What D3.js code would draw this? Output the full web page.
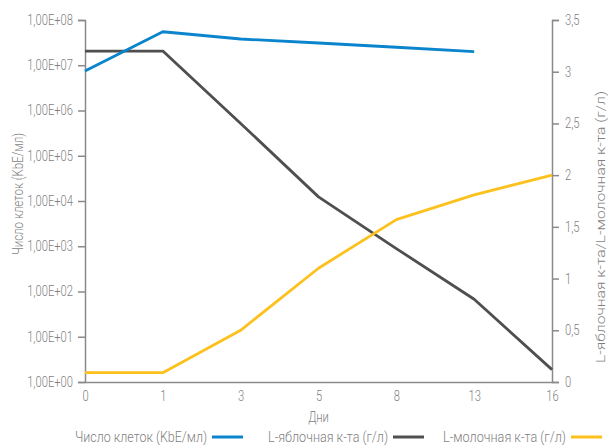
<!DOCTYPE html>
<html>
<head>
<meta charset="utf-8">
<script src="https://cdn.jsdelivr.net/npm/d3@7"></script>
<style>
  html, body { margin: 0; padding: 0; background: #fff; }
  svg text { font-family: "Roboto", "Liberation Sans", sans-serif; font-weight: 300; fill: #7f7f7f; }
</style>
</head>
<body>
<svg id="chart" width="609" height="445"></svg>
<script>
// Days of fermentation (categorical x axis)
const days = ["0", "1", "3", "5", "8", "13", "16"];

// Cell count (CFU/ml), log scale, left axis
const cellCount = [7.5e6, 5.5e7, 3.8e7, 3.1e7, 2.5e7, 2.0e7, null];

// L-malic acid (g/l), right axis
const malicAcid = [3.2, 3.2, 2.5, 1.79, 1.29, 0.8, 0.12];

// L-lactic acid (g/l), right axis
const lacticAcid = [0.09, 0.09, 0.5, 1.1, 1.57, 1.81, 2.0];

// Axis ticks
const leftTicks = [1e0, 1e1, 1e2, 1e3, 1e4, 1e5, 1e6, 1e7, 1e8];
const rightTicks = [0, 0.5, 1, 1.5, 2, 2.5, 3, 3.5];

const seriesNames = ["Число клеток (KbE/мл)", "L-яблочная к-та (г/л)", "L-молочная к-та (г/л)"];
const seriesColors = ["#0a84cc", "#4f4f4f", "#fdc11e"];

const svg = d3.select("#chart");
const margin = { left: 85, right: 57, top: 20, bottom: 63 };
const W = 609, H = 445;
const condense = 0.8; // horizontal squeeze for a narrow typeface look

const x = d3.scalePoint().domain(days).range([margin.left, W - margin.right]).padding(0);
const yLeft = d3.scaleLog().domain([1, 1e8]).range([H - margin.bottom, margin.top]);
const yRight = d3.scaleLinear().domain([0, 3.5]).range([H - margin.bottom, margin.top]);

const sciFmt = v => {
  const e = Math.round(Math.log10(v));
  return "1,00E+" + String(e).padStart(2, "0");
};
const decFmt = v => String(v).replace(".", ",");

function styleAxis(g) {
  g.selectAll("path.domain").attr("stroke", "#8a8a8a").attr("stroke-width", 1.5);
  g.selectAll(".tick line").attr("stroke", "#8a8a8a").attr("stroke-width", 1.5);
  g.selectAll(".tick text")
    .attr("font-size", 14)
    .attr("fill", "#7f7f7f")
    .each(function () {
      const t = d3.select(this);
      const tx = +t.attr("x") || 0;
      t.attr("x", 0).attr("transform", `translate(${tx},0) scale(${condense},1)`);
    });
}

// Left (log) axis
svg.append("g")
  .attr("transform", `translate(${margin.left},0)`)
  .call(d3.axisLeft(yLeft).tickValues(leftTicks).tickFormat(sciFmt).tickSize(7).tickSizeOuter(7).tickPadding(5))
  .call(styleAxis);

// Right (linear) axis
svg.append("g")
  .attr("transform", `translate(${W - margin.right},0)`)
  .call(d3.axisRight(yRight).tickValues(rightTicks).tickFormat(decFmt).tickSize(7).tickSizeOuter(7).tickPadding(6))
  .call(styleAxis);

// Bottom axis
svg.append("g")
  .attr("transform", `translate(0,${H - margin.bottom})`)
  .call(d3.axisBottom(x).tickSize(0).tickPadding(9))
  .call(styleAxis);

// Series lines
const lineLeft = d3.line()
  .defined(d => d.v != null)
  .x(d => x(d.day))
  .y(d => yLeft(d.v));
const lineRight = d3.line()
  .defined(d => d.v != null)
  .x(d => x(d.day))
  .y(d => yRight(d.v));

const toPts = arr => days.map((day, i) => ({ day, v: arr[i] }));

svg.append("path")
  .datum(toPts(malicAcid))
  .attr("d", lineRight)
  .attr("fill", "none").attr("stroke", seriesColors[1]).attr("stroke-width", 2.8)
  .attr("stroke-linejoin", "round");

svg.append("path")
  .datum(toPts(lacticAcid))
  .attr("d", lineRight)
  .attr("fill", "none").attr("stroke", seriesColors[2]).attr("stroke-width", 2.8)
  .attr("stroke-linejoin", "round");

svg.append("path")
  .datum(toPts(cellCount))
  .attr("d", lineLeft)
  .attr("fill", "none").attr("stroke", seriesColors[0]).attr("stroke-width", 2.8)
  .attr("stroke-linejoin", "round");

// Axis titles
function fitText(sel, len) {
  return sel.attr("textLength", len).attr("lengthAdjust", "spacingAndGlyphs");
}

svg.append("text")
  .attr("x", (margin.left + W - margin.right) / 2)
  .attr("y", 422)
  .attr("text-anchor", "middle")
  .attr("font-size", 14)
  .attr("transform", `translate(${(margin.left + W - margin.right) / 2 * (1 - condense)},0) scale(${condense},1)`)
  .text("Дни");

svg.append("text")
  .attr("transform", `translate(23,194) rotate(-90)`)
  .attr("x", -61)
  .attr("font-size", 14)
  .call(fitText, 122)
  .text("Число клеток (KbE/мл)");

svg.append("text")
  .attr("transform", `translate(604.5,226) rotate(-90)`)
  .attr("x", -137)
  .attr("font-size", 13.5)
  .call(fitText, 272)
  .text("L-яблочная к-та/L-молочная к-та (г/л)");

// Legend
const legendX = [75, 268, 443];
const legendLen = [132, 120, 123];
const legend = svg.append("g");
seriesNames.forEach((name, i) => {
  legend.append("text")
    .attr("x", legendX[i]).attr("y", 442)
    .attr("font-size", 14)
    .call(fitText, legendLen[i])
    .text(name);
  const end = legendX[i] + legendLen[i];
  legend.append("line")
    .attr("x1", end + 5).attr("x2", end + 36)
    .attr("y1", 437).attr("y2", 437)
    .attr("stroke", seriesColors[i]).attr("stroke-width", 3);
});
</script>
</body>
</html>
